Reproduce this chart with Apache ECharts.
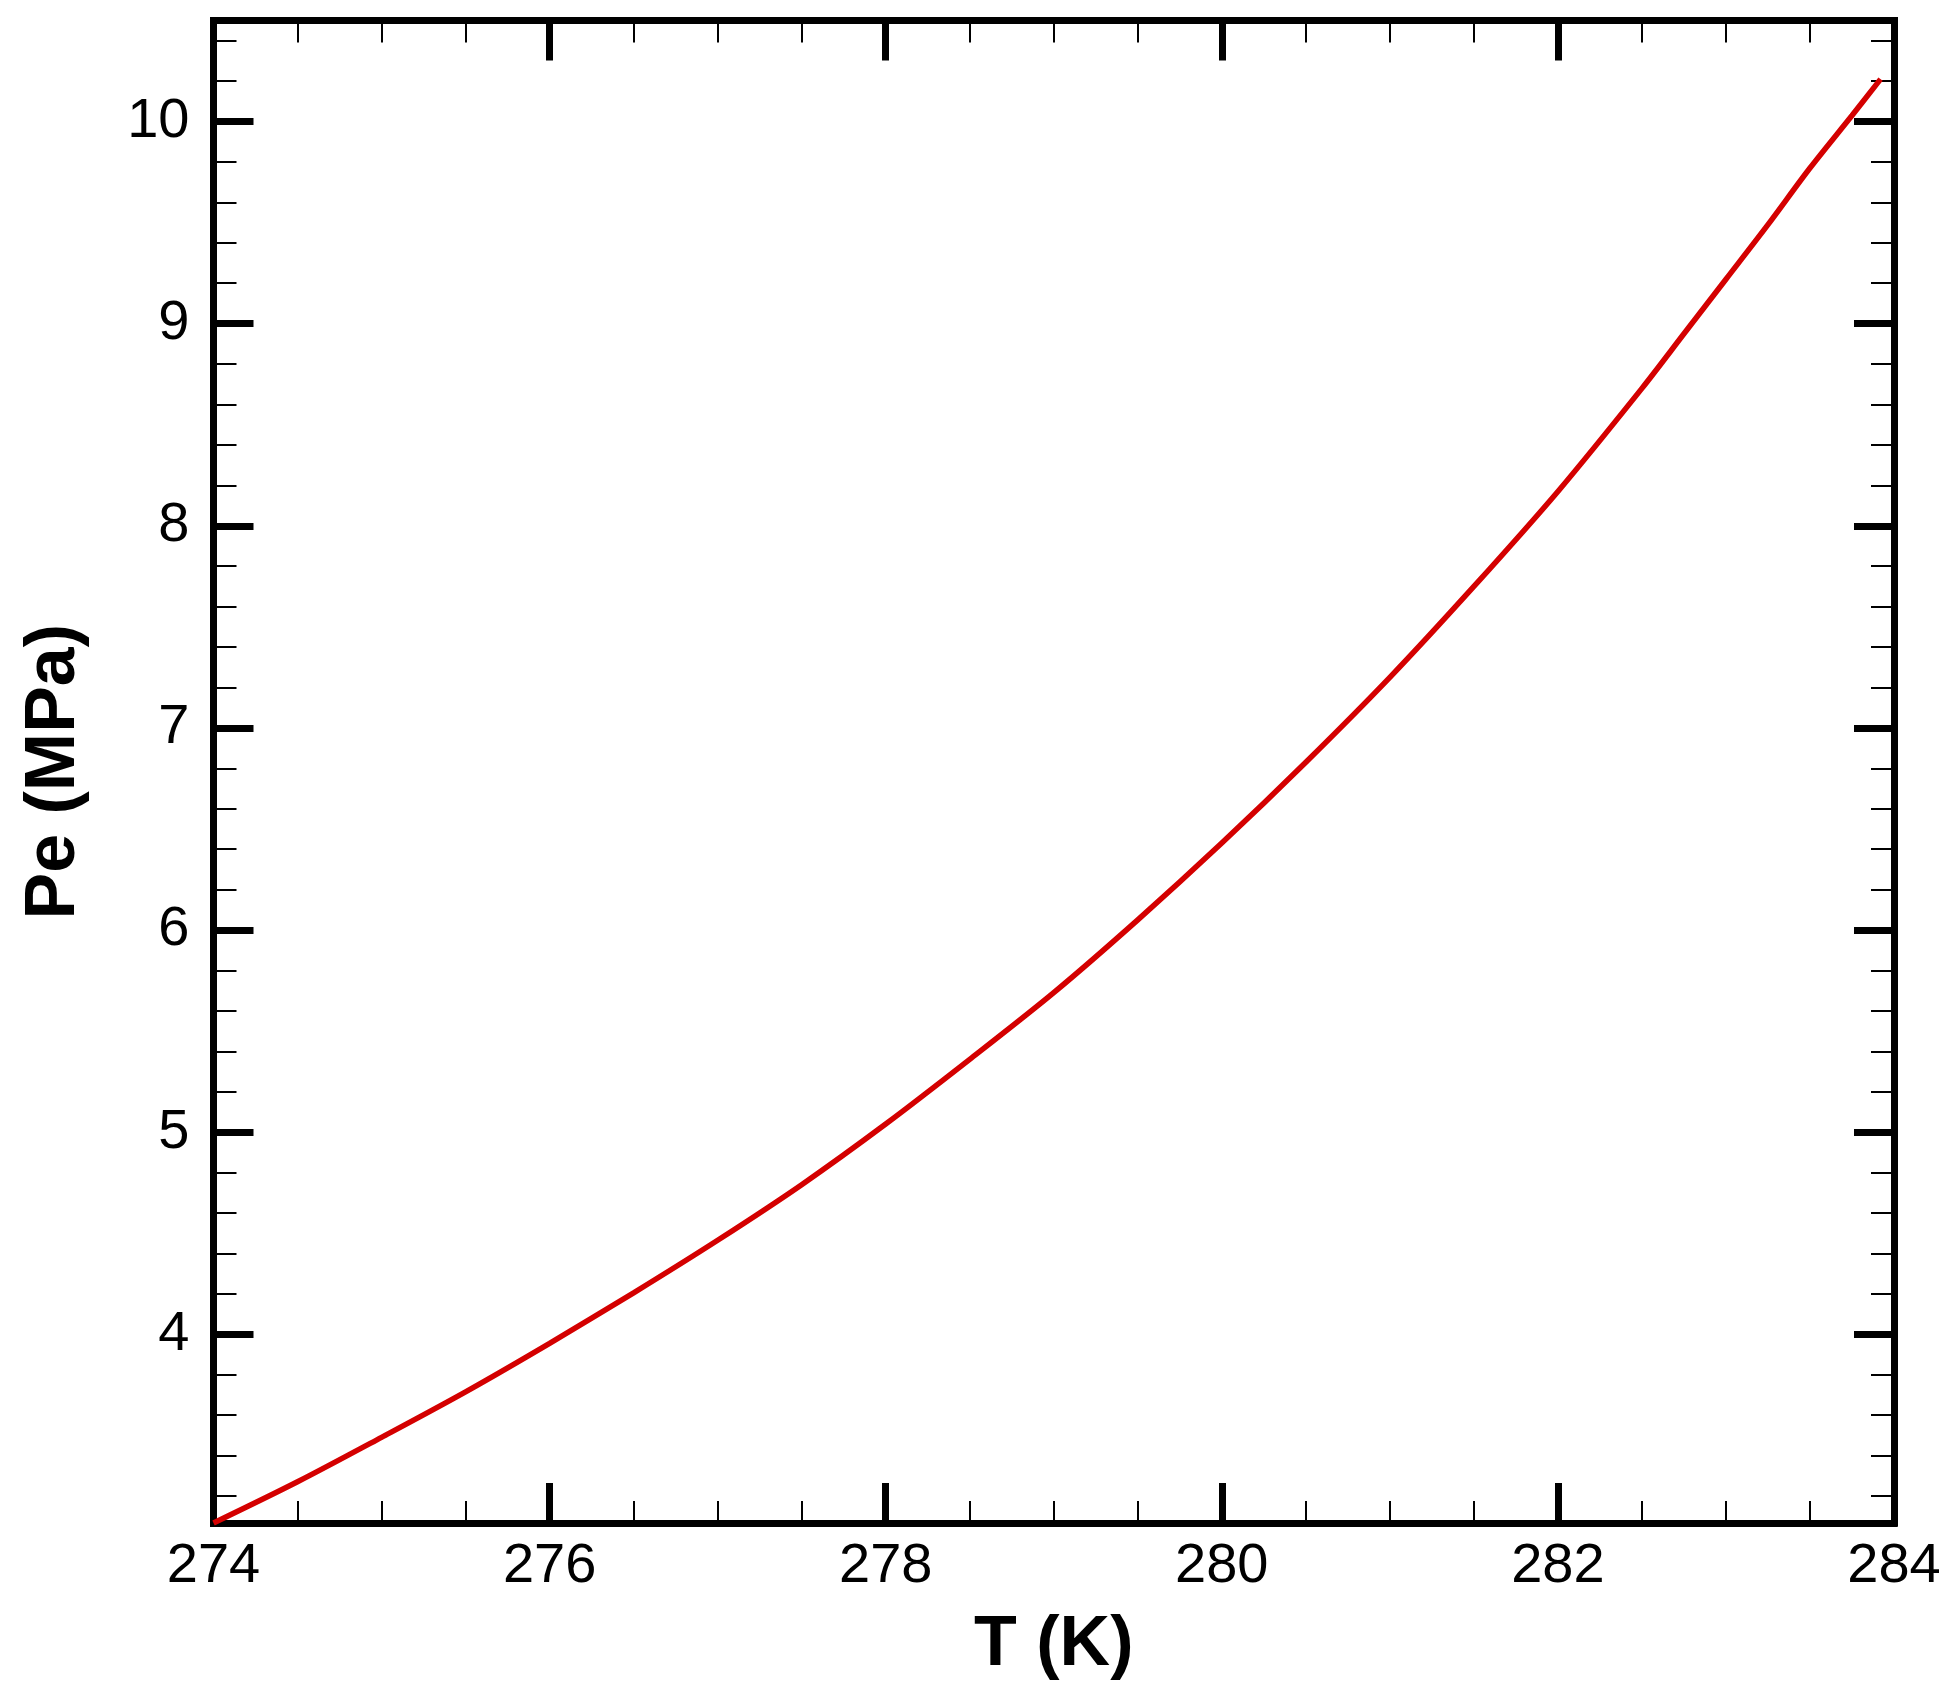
<!DOCTYPE html>
<html>
<head>
<meta charset="utf-8">
<script src="https://cdn.jsdelivr.net/npm/echarts@6/dist/echarts.min.js"></script>
<style>
  html, body { margin: 0; padding: 0; background: #fff; }
  #chart { width: 1960px; height: 1702px; }
</style>
</head>
<body>
<div id="chart"></div>
<script>
const temps = [274.0, 274.5, 275.0, 275.5, 276.0, 276.5, 277.0, 277.5, 278.0, 278.5, 279.0,
  279.5, 280.0, 280.5, 281.0, 281.5, 282.0, 282.5, 282.75, 283.0, 283.25, 283.5, 283.75, 283.92];
const pressures = [3.066, 3.27, 3.49, 3.715, 3.955, 4.205, 4.465, 4.74, 5.04, 5.36, 5.69,
  6.05, 6.43, 6.83, 7.25, 7.70, 8.17, 8.68, 8.95, 9.22, 9.49, 9.77, 10.03, 10.21];

const xLabels = [274, 276, 278, 280, 282, 284];
const xMajor = [276, 278, 280, 282];
const xMinor = [274.5, 275, 275.5, 276.5, 277, 277.5, 278.5, 279, 279.5,
  280.5, 281, 281.5, 282.5, 283, 283.5];
const yLabels = [4, 5, 6, 7, 8, 9, 10];
const yMinor = [3.2, 3.4, 3.6, 3.8, 4.2, 4.4, 4.6, 4.8, 5.2, 5.4, 5.6, 5.8,
  6.2, 6.4, 6.6, 6.8, 7.2, 7.4, 7.6, 7.8, 8.2, 8.4, 8.6, 8.8,
  9.2, 9.4, 9.6, 9.8, 10.2, 10.4];

const X_MIN = 274, X_MAX = 284;
const Y_MIN = 3.066, Y_MAX = 10.5;
const font = "'Liberation Sans', Arial, sans-serif";

const chart = echarts.init(document.getElementById("chart"));

// one axis per side for the frame + major ticks, another for minor ticks
function xAxis(position, opts) {
  return Object.assign({
    type: "value",
    position: position,
    min: X_MIN,
    max: X_MAX,
    splitLine: { show: false },
    axisLine: { show: false, onZero: false },
    axisLabel: { show: false },
    axisTick: { show: false },
  }, opts);
}
function yAxis(position, opts) {
  return Object.assign({
    type: "value",
    position: position,
    min: Y_MIN,
    max: Y_MAX,
    splitLine: { show: false },
    axisLine: { show: false, onZero: false },
    axisLabel: { show: false },
    axisTick: { show: false },
  }, opts);
}

const frameLine = { show: true, onZero: false, lineStyle: { color: "#000", width: 7, cap: "square" } };
const majorTickX = { show: true, inside: true, length: 40, customValues: xMajor, lineStyle: { color: "#000", width: 7 } };
const minorTickX = { show: true, inside: true, length: 22, customValues: xMinor, lineStyle: { color: "#000", width: 2 } };
const majorTickY = { show: true, inside: true, length: 40, customValues: yLabels, lineStyle: { color: "#000", width: 7 } };
const minorTickY = { show: true, inside: true, length: 23, customValues: yMinor, lineStyle: { color: "#000", width: 2 } };

const option = {
  animation: false,
  backgroundColor: "#fff",
  grid: { left: 213.5, right: 66, top: 20.5, bottom: 179 },
  xAxis: [
    xAxis("bottom", {
      name: "T (K)",
      nameLocation: "middle",
      nameGap: 88,
      nameTextStyle: { fontFamily: font, fontSize: 70, fontWeight: "bold", color: "#000" },
      axisLine: frameLine,
      axisTick: majorTickX,
      axisLabel: {
        show: true,
        customValues: xLabels,
        margin: 16,
        fontFamily: font,
        fontSize: 56,
        color: "#000",
      },
    }),
    xAxis("top", { axisLine: frameLine, axisTick: majorTickX }),
    xAxis("bottom", { axisTick: minorTickX }),
    xAxis("top", { axisTick: minorTickX }),
  ],
  yAxis: [
    yAxis("left", {
      name: "Pe (MPa)",
      nameLocation: "middle",
      nameGap: 124,
      nameTextStyle: { fontFamily: font, fontSize: 70, fontWeight: "bold", color: "#000" },
      axisLine: frameLine,
      axisTick: majorTickY,
      axisLabel: {
        show: true,
        customValues: yLabels,
        margin: 24,
        fontFamily: font,
        fontSize: 56,
        color: "#000",
      },
    }),
    yAxis("right", { axisLine: frameLine, axisTick: majorTickY }),
    yAxis("left", { axisTick: minorTickY }),
    yAxis("right", { axisTick: minorTickY }),
  ],
  series: [
    {
      type: "line",
      xAxisIndex: 0,
      yAxisIndex: 0,
      data: temps.map((t, i) => [t, pressures[i]]),
      showSymbol: false,
      smooth: 0.3,
      lineStyle: { color: "#d40000", width: 5.5 },
      z: 1,
    },
  ],
};

chart.setOption(option);
</script>
</body>
</html>
